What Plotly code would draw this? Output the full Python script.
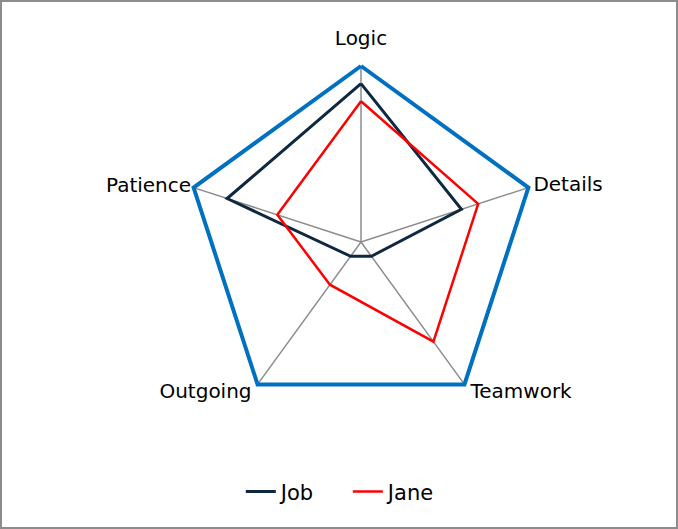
import plotly.graph_objects as go

categories = ["Logic", "Details", "Teamwork", "Outgoing", "Patience"]
job = [9, 6, 1, 1, 8]
jane = [8, 7, 7, 3, 5]
scale_max = 10

# label placement (radius in data units and text side) for each category
label_r = [11.45, 10.3, 10.58, 10.58, 10.15]
label_pos = ["middle center", "middle right", "middle right", "middle left", "middle left"]

W, H = 678, 529
cx, cy, R10 = 361, 242, 176
RMAX = 12
R = R10 * RMAX / scale_max

fig = go.Figure()
# spokes
sp_r, sp_t = [], []
for c in categories:
    sp_r += [0, scale_max, None]
    sp_t += [c, c, None]
fig.add_trace(go.Scatterpolar(r=sp_r, theta=sp_t, mode="lines", line=dict(color="#8c8c8c", width=1.5),
                              showlegend=False, hoverinfo="skip", connectgaps=False))
# outer boundary
fig.add_trace(go.Scatterpolar(r=[scale_max] * (len(categories) + 1), theta=categories + categories[:1],
                              mode="lines", line=dict(color="#0070c0", width=4),
                              showlegend=False, hoverinfo="skip"))
fig.add_trace(go.Scatterpolar(r=job + job[:1], theta=categories + categories[:1], mode="lines",
                              name="Job", line=dict(color="#0e2841", width=3)))
fig.add_trace(go.Scatterpolar(r=jane + jane[:1], theta=categories + categories[:1], mode="lines",
                              name="Jane", line=dict(color="#ff0000", width=2.5)))
fig.add_trace(go.Scatterpolar(r=label_r, theta=categories, mode="text", text=categories,
                              textposition=label_pos, textfont=dict(size=20, color="black"),
                              showlegend=False, cliponaxis=False, hoverinfo="skip"))

fig.update_layout(
    width=W, height=H,
    margin=dict(l=0, r=0, t=0, b=0),
    paper_bgcolor="white",
    font=dict(family="DejaVu Sans", size=20, color="black"),
    polar=dict(
        domain=dict(x=[(cx - R) / W, (cx + R) / W], y=[(H - cy - R) / H, (H - cy + R) / H]),
        bgcolor="rgba(0,0,0,0)",
        gridshape="linear",
        radialaxis=dict(range=[0, RMAX], visible=False),
        angularaxis=dict(rotation=90, direction="clockwise", showline=False, showgrid=False,
                         ticks="", showticklabels=False),
    ),
    legend=dict(orientation="h", x=0.513, xanchor="center", y=0.07, yanchor="middle",
                font=dict(size=21), entrywidth=62),
    shapes=[dict(type="rect", xref="paper", yref="paper", x0=1 / W, x1=1 - 1 / W, y0=1 / H, y1=1 - 1 / H,
                 line=dict(color="#8c8c8c", width=2))],
)

fig.write_html("out.html")
